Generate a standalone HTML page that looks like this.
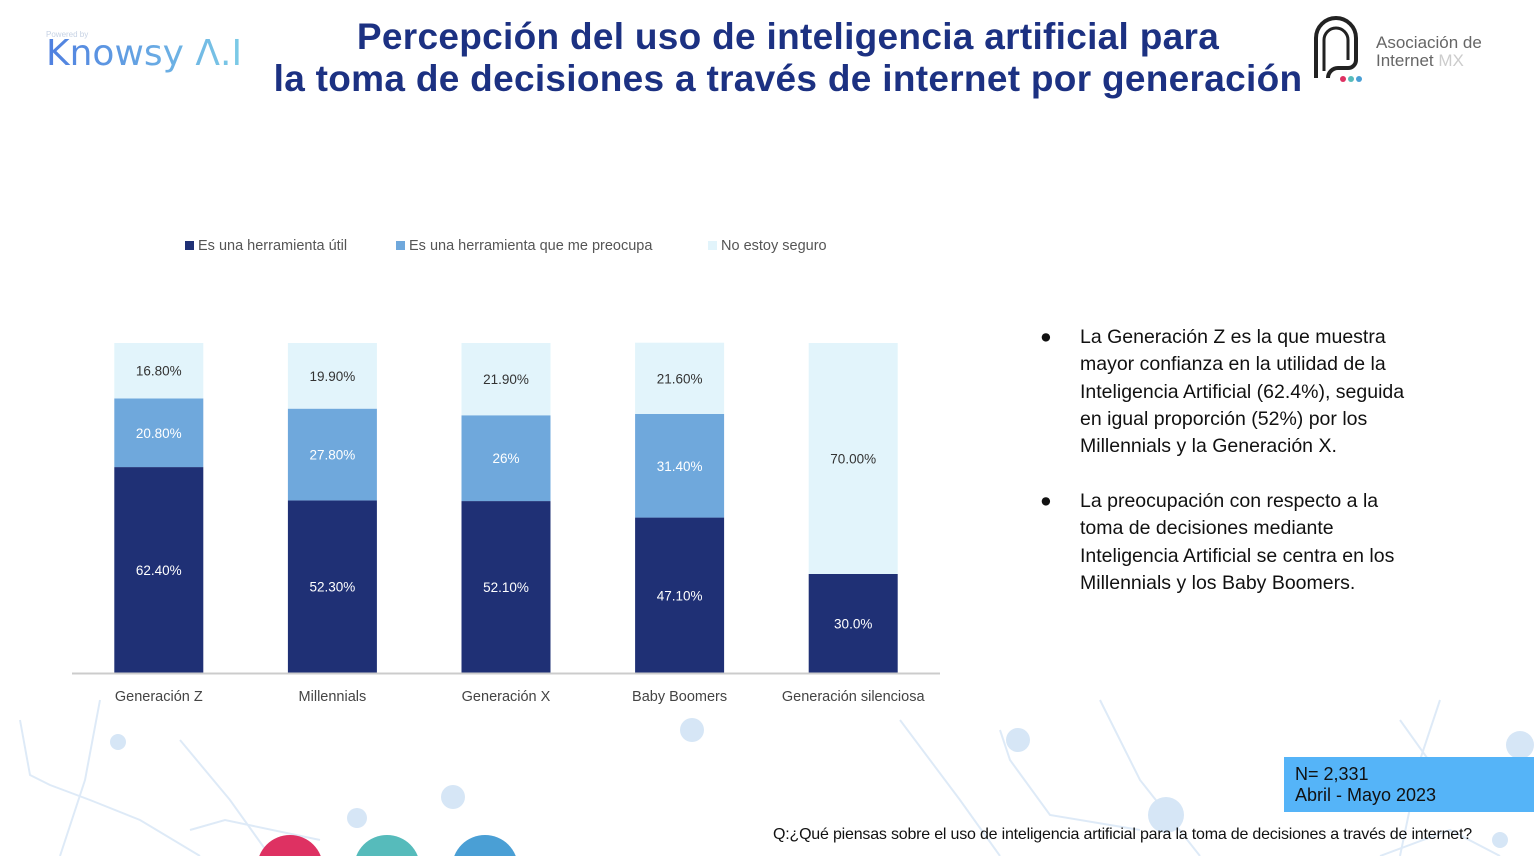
<!DOCTYPE html>
<html><head><meta charset="utf-8">
<style>
html,body{margin:0;width:1534px;height:856px;overflow:hidden}
body{background:#fff;font-family:"Liberation Sans","DejaVu Sans",sans-serif;position:relative}
.abs{position:absolute}
.title{left:138px;top:16px;width:1300px;text-align:center;color:#1c3182;font-weight:bold;font-size:37px;line-height:42px;font-family:"Liberation Sans",sans-serif;white-space:nowrap;letter-spacing:0.3px}
.bul{left:1040px;width:390px;font-size:19.5px;line-height:27.3px;color:#111}
.bul span.dot{position:absolute;left:0;top:0}
.bul div{margin-left:40px}
</style></head><body>
<svg class="abs" style="left:0;top:0" width="1534" height="856">
<g stroke="#d6e6f6" stroke-width="2" fill="none" opacity="0.8">
<polyline points="20,720 30,775 50,785 90,800 140,820 200,856"/>
<polyline points="100,700 85,780 60,856"/>
<polyline points="180,740 230,800 270,856"/>
<polyline points="190,830 225,820 320,840"/>
<polyline points="900,720 960,800 1000,856"/>
<polyline points="1000,730 1010,760 1050,815 1140,830"/>
<polyline points="1100,700 1140,780 1200,856"/>
<polyline points="1400,720 1450,790 1534,800"/>
<polyline points="1380,856 1450,830 1500,856"/>
<polyline points="1440,700 1420,760 1400,856"/>
</g>
<g fill="#d6e6f6"><circle cx="118" cy="742" r="8"/><circle cx="453" cy="797" r="12"/><circle cx="692" cy="730" r="12"/><circle cx="1018" cy="740" r="12"/><circle cx="357" cy="818" r="10"/><circle cx="1166" cy="815" r="18"/><circle cx="1520" cy="745" r="14"/><circle cx="1500" cy="840" r="8"/></g>
<circle cx="290" cy="868" r="33" fill="#de3162"/>
<circle cx="387" cy="868" r="33" fill="#56bbbb"/>
<circle cx="485" cy="868" r="33" fill="#4a9fd5"/>
</svg>

<div class="abs" style="left:46px;top:30px">
<div style="font-size:8px;color:#c6d2e4">Powered by</div>
<div style="font-size:36px;font-family:'DejaVu Sans',sans-serif;margin-top:-6px;background:linear-gradient(90deg,#4f7fe0,#7ccbe6);-webkit-background-clip:text;color:transparent">Knowsy Λ.I</div>
</div>

<div class="abs title">Percepción del uso de inteligencia artificial para<br>la toma de decisiones a través de internet por generación</div>

<div class="abs" style="left:1306px;top:16px">
<svg width="60" height="70"><path d="M10,62 V22 a20,20 0 0 1 40,0 V44 a8,8 0 0 1 -8,8 H32 a10,10 0 0 0 -10,10" fill="none" stroke="#222" stroke-width="4"/><path d="M18,55 V24 a12,12 0 0 1 24,0 V44" fill="none" stroke="#222" stroke-width="3"/><circle cx="37" cy="63" r="3" fill="#de3162"/><circle cx="45" cy="63" r="3" fill="#56bbbb"/><circle cx="53" cy="63" r="3" fill="#4a9fd5"/></svg>
<div class="abs" style="left:70px;top:18px;font-size:17px;line-height:18px;color:#666;white-space:nowrap">Asociación de<br>Internet <span style="color:#ccc">MX</span></div>
</div>

<svg id="chart" class="abs" style="left:0;top:0" width="1000" height="720"></svg>

<div class="abs bul" style="top:324px"><span class="dot">●</span><div>La Generación Z es la que muestra mayor confianza en la utilidad de la Inteligencia Artificial (62.4%), seguida en igual proporción (52%) por los Millennials y la Generación X.</div></div>
<div class="abs bul" style="top:488px;width:385px"><span class="dot">●</span><div>La preocupación con respecto a la toma de decisiones mediante Inteligencia Artificial se centra en los Millennials y los Baby Boomers.</div></div>

<div class="abs" style="left:1284px;top:757px;width:250px;height:55px;background:#55b4f8;color:#111;font-size:18px;line-height:21px;padding:7px 0 0 11px;box-sizing:border-box">N= 2,331<br>Abril - Mayo 2023</div>
<div class="abs" style="left:773px;top:826px;font-size:16px;line-height:18px;color:#111;white-space:nowrap;letter-spacing:-0.2px">Q:¿Qué piensas sobre el uso de inteligencia artificial para la toma de decisiones a través de internet?</div>

<script>
const categories=["Generación Z","Millennials","Generación X","Baby Boomers","Generación silenciosa"];
const util=[62.4,52.3,52.1,47.1,30.0];
const preocupa=[20.8,27.8,26,31.4,0];
const noSeguro=[16.8,19.9,21.9,21.6,70.0];
const utilLabels=["62.40%","52.30%","52.10%","47.10%","30.0%"];
const preocupaLabels=["20.80%","27.80%","26%","31.40%",""];
const noSeguroLabels=["16.80%","19.90%","21.90%","21.60%","70.00%"];
const seriesNames=["Es una herramienta útil","Es una herramienta que me preocupa","No estoy seguro"];
const colors=["#1f3075","#6fa8dc","#e2f4fb"];
const ns="http://www.w3.org/2000/svg";
const svg=document.getElementById("chart");
const base=673,plotH=330,x0=72,x1=940,barW=89;
const step=(x1-x0)/categories.length;
const y=v=>base-v/100*plotH;
const xc=i=>x0+step*(i+0.5);
function mk(t,a){const e=document.createElementNS(ns,t);for(const k in a)e.setAttribute(k,a[k]);svg.appendChild(e);return e;}
const series=[util,preocupa,noSeguro],labs=[utilLabels,preocupaLabels,noSeguroLabels];
categories.forEach((c,i)=>{
 let cum=0;
 series.forEach((s,j)=>{
  const v=s[i];if(!v){return;}
  const r=mk("rect",{x:xc(i)-barW/2,y:y(cum+v),width:barW,height:y(cum)-y(cum+v),fill:colors[j]});
  
  
  const t=mk("text",{x:xc(i),y:(y(cum)+y(cum+v))/2+5,"text-anchor":"middle","font-size":"13.5",fill:j==2?"#333":"#fff"});
  t.textContent=labs[j][i];
  
  
  cum+=v;
 });
 const l=mk("text",{x:xc(i),y:701,"text-anchor":"middle","font-size":"14.5",fill:"#444"});
 l.textContent=c;
 
 
});
const ax=mk("line",{x1:x0,x2:x1,y1:base+0.5,y2:base+0.5,stroke:"#ccc","stroke-width":2});


const lx=[185,396,708];
seriesNames.forEach((n,j)=>{
 const r=mk("rect",{x:lx[j],y:241,width:9,height:9,fill:colors[j]});
 
 
 const t=mk("text",{x:lx[j]+13,y:250,"font-size":"14.5",fill:"#555"});
 t.textContent=n;
 
 
});
</script>
</body></html>
